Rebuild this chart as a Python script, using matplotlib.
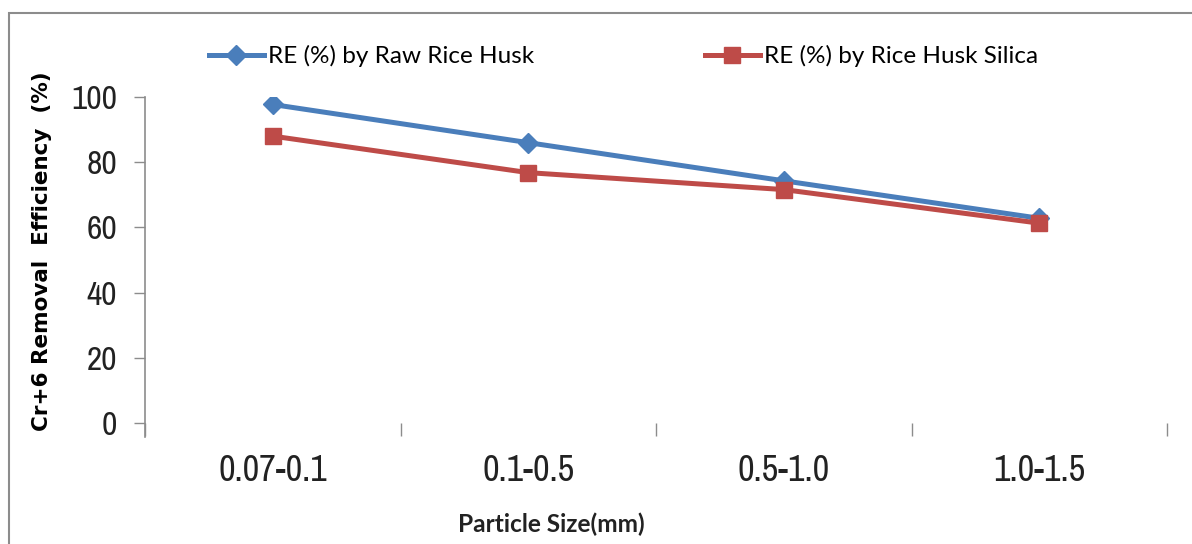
'''
Cr+6 removal efficiency vs particle size
'''

# Imports
import numpy as np
import matplotlib
matplotlib.use("Agg")
import matplotlib.pyplot as plt
from matplotlib.patches import Rectangle
from matplotlib.lines import Line2D


# Data
categories = ['0.07-0.1', '0.1-0.5', '0.5-1.0', '1.0-1.5']
raw_husk = [97.7, 86.0, 74.3, 62.8]
husk_silica = [88.0, 76.8, 71.6, 61.3]
yticks = [0, 20, 40, 60, 80, 100]

label_raw = 'RE (%) by Raw Rice Husk'
label_silica = 'RE (%) by Rice Husk Silica'

# Styles
blue = '#4A7EBB'
red = '#BE4B48'
grey = '#8C8C8C'
narrow = ['Archivo Narrow', 'Liberation Sans', 'DejaVu Sans']

fig = plt.figure(figsize=(11.92, 5.44), dpi=100)
ax = fig.add_axes([145 / 1192, 1 - 423 / 544, (1167 - 145) / 1192, (423 - 97) / 544])

# Outer chart border
fig.patches.append(Rectangle((9 / 1192, -0.1), 1.2, 1.1 - 13 / 544, transform=fig.transFigure,
                             fill=False, edgecolor=grey, linewidth=1.5))

x = np.arange(1, len(categories) + 1)
ax.plot(x, raw_husk, color=blue, lw=3.6, marker='D', ms=10.5, mec=blue, mfc=blue)
ax.plot(x, husk_silica, color=red, lw=3.6, marker='s', ms=11, mec=red, mfc=red)

ax.set_xlim(0.5, len(categories) + 0.5)
ax.set_ylim(0, 100)

# Spines
for s in ['top', 'right', 'bottom']:
    ax.spines[s].set_visible(False)
ax.spines['left'].set_color(grey)
ax.spines['left'].set_linewidth(1.2)
ax.spines['left'].set_bounds(-4.3, 100)

# Y ticks
ax.set_yticks(yticks)
ax.set_yticklabels([str(v) for v in yticks], fontfamily=narrow, fontsize=24, color='#222222')
ax.tick_params(axis='y', direction='out', length=8, width=1, color=grey, pad=12)

# X ticks: boundaries as major, labels at centers as minor
ax.set_xticks(np.arange(0.5, len(categories) + 1, 1.0))
ax.set_xticklabels([])
ax.tick_params(axis='x', which='major', direction='out', length=9, width=1, color=grey)
ax.set_xticks(x, minor=True)
ax.set_xticklabels(categories, minor=True, fontfamily=narrow, fontsize=26, color='#222222')
ax.tick_params(axis='x', which='minor', length=0, pad=22)

# Axis labels
fig.text(42 / 1192, 1 - 251 / 544, 'Cr+6 Removal  Efficiency  (%)', rotation=90,
         ha='center', va='center', fontsize=15.5, fontweight='bold', family='DejaVu Sans')
fig.text(551 / 1192, 1 - 524 / 544, 'Particle Size(mm)', ha='center', va='center',
         fontsize=17.6, fontweight='bold', family='Lato', color='#222222')

# Legend, two separate entries
h1 = Line2D([], [], color=blue, lw=3.6, marker='D', ms=10.5)
h2 = Line2D([], [], color=red, lw=3.6, marker='s', ms=11)
leg_font = {'family': 'Lato', 'size': 17.5}
leg1 = fig.legend([h1], [label_raw], loc='center left', bbox_to_anchor=(197 / 1192, 1 - 56 / 544),
                  frameon=False, prop=leg_font, handlelength=2.25, handletextpad=0.16, borderpad=0)
leg2 = fig.legend([h2], [label_silica], loc='center left', bbox_to_anchor=(693 / 1192, 1 - 56 / 544),
                  frameon=False, prop=leg_font, handlelength=2.25, handletextpad=0.16, borderpad=0)

fig.savefig('out.png', dpi=100)
